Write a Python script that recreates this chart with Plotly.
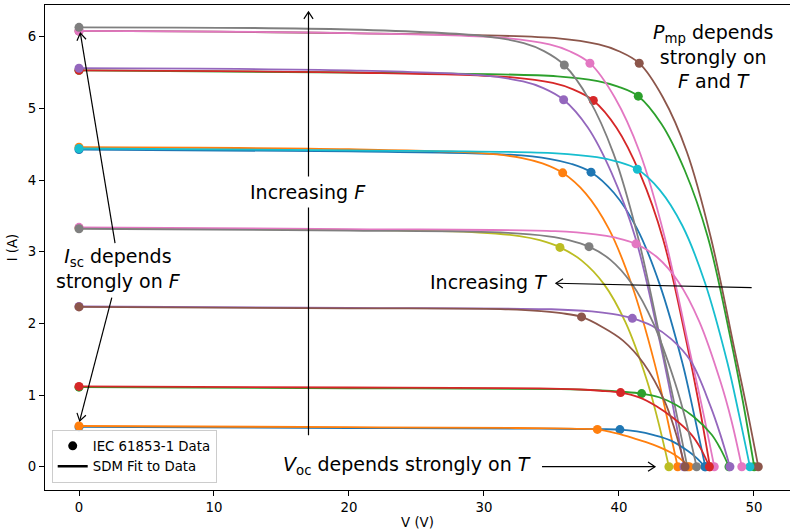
import plotly.graph_objects as go

# ---------------- data ----------------
curve_colors = ["#1f77b4", "#ff7f0e", "#2ca02c", "#d62728", "#9467bd",
                "#8c564b", "#e377c2", "#7f7f7f", "#bcbd22", "#17becf",
                "#1f77b4", "#ff7f0e", "#2ca02c", "#d62728", "#9467bd",
                "#8c564b", "#e377c2", "#7f7f7f"]

# IEC 61853-1 data points: short-circuit, max-power and open-circuit points
isc = [4.425, 4.457, 5.53, 5.53, 5.56, 6.08, 6.08, 6.13, 3.33, 4.44,
       0.555, 0.568, 1.11, 1.12, 2.235, 2.23, 3.34, 3.32]
vmp = [37.93, 35.83, 41.43, 38.1, 35.9, 41.5, 37.85, 35.95, 35.63, 41.36,
       40.07, 38.4, 41.68, 40.12, 40.99, 37.23, 41.26, 37.78]
imp = [4.11, 4.10, 5.17, 5.11, 5.12, 5.63, 5.63, 5.605, 3.06, 4.15,
       0.518, 0.52, 1.02, 1.034, 2.07, 2.09, 3.11, 3.07]
voc = [46.4, 44.35, 50.02, 46.74, 44.81, 50.32, 47.06, 45.06, 43.7, 49.7,
       46.37, 45.2, 48.15, 46.7, 48.22, 44.9, 49.1, 45.75]

# SDM fit curves (V, I)
fit_v_01 = [0, 20, 31.93, 34.93, 36.43, 37.93, 39.62, 41.32, 43.01, 44.71, 45.55, 46.4]
fit_i_01 = [4.425, 4.40, 4.353, 4.293, 4.227, 4.11, 3.822, 3.329, 2.548, 1.439, 0.74, 0]
fit_v_02 = [0, 20, 29.83, 32.83, 34.33, 35.83, 37.53, 39.24, 40.94, 42.65, 43.5, 44.35]
fit_i_02 = [4.457, 4.43, 4.375, 4.307, 4.232, 4.10, 3.813, 3.321, 2.542, 1.435, 0.738, 0]
fit_v_03 = [0, 20, 35.43, 38.43, 39.93, 41.43, 43.15, 44.87, 46.58, 48.3, 49.16, 50.02]
fit_i_03 = [5.53, 5.50, 5.447, 5.379, 5.303, 5.17, 4.782, 4.136, 3.205, 1.758, 0.931, 0]
fit_v_04 = [0, 20, 32.1, 35.1, 36.6, 38.1, 39.83, 41.56, 43.28, 45.01, 45.88, 46.74]
fit_i_04 = [5.53, 5.50, 5.433, 5.354, 5.265, 5.11, 4.727, 4.088, 3.168, 1.737, 0.92, 0]
fit_v_05 = [0, 20, 29.9, 32.9, 34.4, 35.9, 37.68, 39.46, 41.25, 43.03, 43.92, 44.81]
fit_i_05 = [5.56, 5.53, 5.459, 5.375, 5.283, 5.12, 4.736, 4.096, 3.174, 1.741, 0.922, 0]
fit_v_06 = [0, 20, 35.5, 38.5, 40.0, 41.5, 43.26, 45.03, 46.79, 48.56, 49.44, 50.32]
fit_i_06 = [6.08, 6.05, 5.977, 5.891, 5.797, 5.63, 5.151, 4.391, 3.209, 1.633, 0.845, 0]
fit_v_07 = [0, 20, 31.85, 34.85, 36.35, 37.85, 39.69, 41.53, 43.38, 45.22, 46.14, 47.06]
fit_i_07 = [6.08, 6.05, 5.977, 5.891, 5.797, 5.63, 5.151, 4.391, 3.209, 1.633, 0.845, 0]
fit_v_08 = [0, 20, 29.95, 32.95, 34.45, 35.95, 37.77, 39.59, 41.42, 43.24, 44.15, 45.06]
fit_i_08 = [6.13, 6.10, 6.009, 5.91, 5.799, 5.605, 5.129, 4.372, 3.195, 1.625, 0.841, 0]
fit_v_09 = [0, 20, 29.63, 32.63, 34.13, 35.63, 37.24, 38.86, 40.47, 42.09, 42.89, 43.7]
fit_i_09 = [3.33, 3.305, 3.268, 3.217, 3.16, 3.06, 2.876, 2.555, 2.02, 1.193, 0.643, 0]
fit_v_10 = [0, 20, 35.36, 38.36, 39.86, 41.36, 43.03, 44.7, 46.36, 48.03, 48.87, 49.7]
fit_i_10 = [4.44, 4.415, 4.373, 4.318, 4.257, 4.15, 3.86, 3.362, 2.573, 1.453, 0.747, 0]
fit_v_11 = [0, 20, 34.07, 37.07, 38.57, 40.07, 41.33, 42.59, 43.85, 45.11, 45.74, 46.37]
fit_i_11 = [0.555, 0.54, 0.530, 0.526, 0.523, 0.518, 0.492, 0.44, 0.363, 0.218, 0.124, 0]
fit_v_12 = [0, 20, 32.4, 35.4, 36.9, 38.4, 39.76, 41.12, 42.48, 43.84, 44.52, 45.2]
fit_i_12 = [0.568, 0.552, 0.54, 0.535, 0.529, 0.52, 0.468, 0.395, 0.312, 0.198, 0.114, 0]
fit_v_13 = [0, 20, 35.68, 38.68, 40.18, 41.68, 42.97, 44.27, 45.56, 46.86, 47.5, 48.15]
fit_i_13 = [1.11, 1.095, 1.083, 1.065, 1.047, 1.02, 0.969, 0.857, 0.694, 0.449, 0.255, 0]
fit_v_14 = [0, 20, 34.12, 37.12, 38.62, 40.12, 41.44, 42.75, 44.07, 45.38, 46.04, 46.7]
fit_i_14 = [1.12, 1.105, 1.094, 1.077, 1.06, 1.034, 0.972, 0.848, 0.672, 0.445, 0.259, 0]
fit_v_15 = [0, 20, 34.99, 37.99, 39.49, 40.99, 42.44, 43.88, 45.33, 46.77, 47.5, 48.22]
fit_i_15 = [2.235, 2.215, 2.197, 2.166, 2.131, 2.07, 1.967, 1.78, 1.47, 0.849, 0.455, 0]
fit_v_16 = [0, 20, 31.23, 34.23, 35.73, 37.23, 38.76, 40.3, 41.83, 43.37, 44.13, 44.9]
fit_i_16 = [2.23, 2.21, 2.198, 2.171, 2.142, 2.09, 1.95, 1.76, 1.44, 0.92, 0.52, 0]
fit_v_17 = [0, 20, 35.26, 38.26, 39.76, 41.26, 42.83, 44.4, 45.96, 47.53, 48.32, 49.1]
fit_i_17 = [3.34, 3.315, 3.287, 3.243, 3.195, 3.11, 2.923, 2.581, 2.022, 1.182, 0.653, 0]
fit_v_18 = [0, 20, 31.78, 34.78, 36.28, 37.78, 39.37, 40.97, 42.56, 44.16, 44.95, 45.75]
fit_i_18 = [3.32, 3.295, 3.263, 3.215, 3.163, 3.07, 2.886, 2.548, 1.996, 1.167, 0.645, 0]

fit_v = [fit_v_01, fit_v_02, fit_v_03, fit_v_04, fit_v_05, fit_v_06, fit_v_07, fit_v_08, fit_v_09,
         fit_v_10, fit_v_11, fit_v_12, fit_v_13, fit_v_14, fit_v_15, fit_v_16, fit_v_17, fit_v_18]
fit_i = [fit_i_01, fit_i_02, fit_i_03, fit_i_04, fit_i_05, fit_i_06, fit_i_07, fit_i_08, fit_i_09,
         fit_i_10, fit_i_11, fit_i_12, fit_i_13, fit_i_14, fit_i_15, fit_i_16, fit_i_17, fit_i_18]

x_ticks = [0, 10, 20, 30, 40, 50]
y_ticks = [0, 1, 2, 3, 4, 5, 6]

# ---------------- layout constants ----------------
FONT = "DejaVu Sans"
W, H = 790, 530
M_L, M_R, M_T, M_B = 45, 0, 5, 40
X_RANGE = [-2.519, 52.67]
Y_RANGE = [-0.325, 6.442]
PX_PER_V = (W - M_L - M_R) / (X_RANGE[1] - X_RANGE[0])
PX_PER_A = (H - M_T - M_B) / (Y_RANGE[1] - Y_RANGE[0])


def arrow_shapes(tail, tip, head=True, hl=7.0, hw=4.6):
    """Matplotlib-like '->' annotation arrow made of a line and an open head."""
    out = [dict(type="line", xref="x", yref="y", x0=tail[0], y0=tail[1],
                x1=tip[0], y1=tip[1], line=dict(color="black", width=1.2),
                layer="above")]
    if head:
        dx = (tip[0] - tail[0]) * PX_PER_V
        dy = -(tip[1] - tail[1]) * PX_PER_A
        n = (dx * dx + dy * dy) ** 0.5
        ux, uy = dx / n, dy / n
        nx, ny = -uy, ux
        pts = []
        for s in (1, -1):
            bx = -hl * ux + s * hw * nx
            by = -hl * uy + s * hw * ny
            pts.append((tip[0] + bx / PX_PER_V, tip[1] - by / PX_PER_A))
        path = "M {:.4f},{:.4f} L {:.4f},{:.4f} L {:.4f},{:.4f}".format(
            pts[0][0], pts[0][1], tip[0], tip[1], pts[1][0], pts[1][1])
        out.append(dict(type="path", xref="x", yref="y", path=path,
                        line=dict(color="black", width=1.2), layer="above"))
    return out


# ---------------- figure ----------------
fig = go.Figure()

for k in range(len(fit_v)):
    fig.add_trace(go.Scatter(
        x=fit_v[k], y=fit_i[k], mode="lines",
        line=dict(color=curve_colors[k], width=1.8, shape="spline", smoothing=1.0),
        showlegend=False, hoverinfo="skip"))
    fig.add_trace(go.Scatter(
        x=[0, vmp[k], voc[k]], y=[isc[k], imp[k], 0], mode="markers",
        marker=dict(color=curve_colors[k], size=9, line=dict(width=0)),
        showlegend=False))

# legend proxies
fig.add_trace(go.Scatter(x=[None], y=[None], mode="markers",
                         marker=dict(color="black", size=9),
                         name="IEC 61853-1 Data"))
fig.add_trace(go.Scatter(x=[None], y=[None], mode="lines",
                         line=dict(color="black", width=2.5),
                         name="SDM Fit to Data"))

# ---------------- arrows ----------------
shapes = []
shapes += arrow_shapes((17, 0.44), (17, 6.345))          # increasing F
shapes += arrow_shapes((2.67, 3.12), (0.1, 6.05))        # Isc (up)
shapes += arrow_shapes((2.43, 2.36), (0.05, 0.64))       # Isc (down)
shapes += arrow_shapes((49.83, 2.50), (35.33, 2.56))     # increasing T
shapes += arrow_shapes((34.3, 0.0), (42.67, 0.0))        # Voc

txt_font = dict(family=FONT, size=19, color="black")
annots = [
    dict(x=17, y=3.83, xref="x", yref="y", text="Increasing <i>F</i>",
         showarrow=False, font=txt_font, bgcolor="white", borderpad=4),
    dict(x=2.96, y=2.77, xref="x", yref="y",
         text="<i>I</i><sub>sc</sub> depends<br>strongly on <i>F</i>",
         showarrow=False, font=txt_font, align="center"),
    dict(x=30.37, y=2.58, xref="x", yref="y", text="Increasing <i>T</i>",
         showarrow=False, font=txt_font),
    dict(x=24.27, y=0.02, xref="x", yref="y",
         text="<i>V</i><sub>oc</sub> depends strongly on <i>T</i>",
         showarrow=False, font=txt_font),
    dict(x=46.93, y=5.73, xref="x", yref="y",
         text="<i>P</i><sub>mp</sub> depends<br>strongly on<br><i>F</i> and <i>T</i>",
         showarrow=False, font=txt_font, align="center"),
]

fig.update_layout(
    width=W, height=H,
    margin=dict(l=M_L, r=M_R, t=M_T, b=M_B),
    paper_bgcolor="white", plot_bgcolor="white",
    font=dict(family=FONT, size=13.3, color="black"),
    annotations=annots,
    shapes=shapes,
    showlegend=True,
    legend=dict(x=0.009, y=0.015, xanchor="left", yanchor="bottom",
                bgcolor="rgba(255,255,255,0.8)", bordercolor="#cccccc",
                borderwidth=1, font=dict(family=FONT, size=13.3),
                tracegroupgap=0, itemwidth=30),
)
fig.update_xaxes(range=X_RANGE, tickvals=x_ticks, showgrid=False,
                 zeroline=False, showline=True, linecolor="black", linewidth=1,
                 mirror=True, ticks="outside", ticklen=5, tickcolor="black",
                 title=dict(text="V (V)", standoff=5, font=dict(size=13.3)),
                 automargin=False)
fig.update_yaxes(range=Y_RANGE, tickvals=y_ticks, showgrid=False,
                 zeroline=False, showline=True, linecolor="black", linewidth=1,
                 mirror=False, ticks="outside", ticklen=5, tickcolor="black",
                 title=dict(text="I (A)", standoff=7, font=dict(size=13.3)),
                 automargin=False)

fig.write_html("out.html",
               config={"displayModeBar": False},
               post_script="document.body.style.margin='0px';")
